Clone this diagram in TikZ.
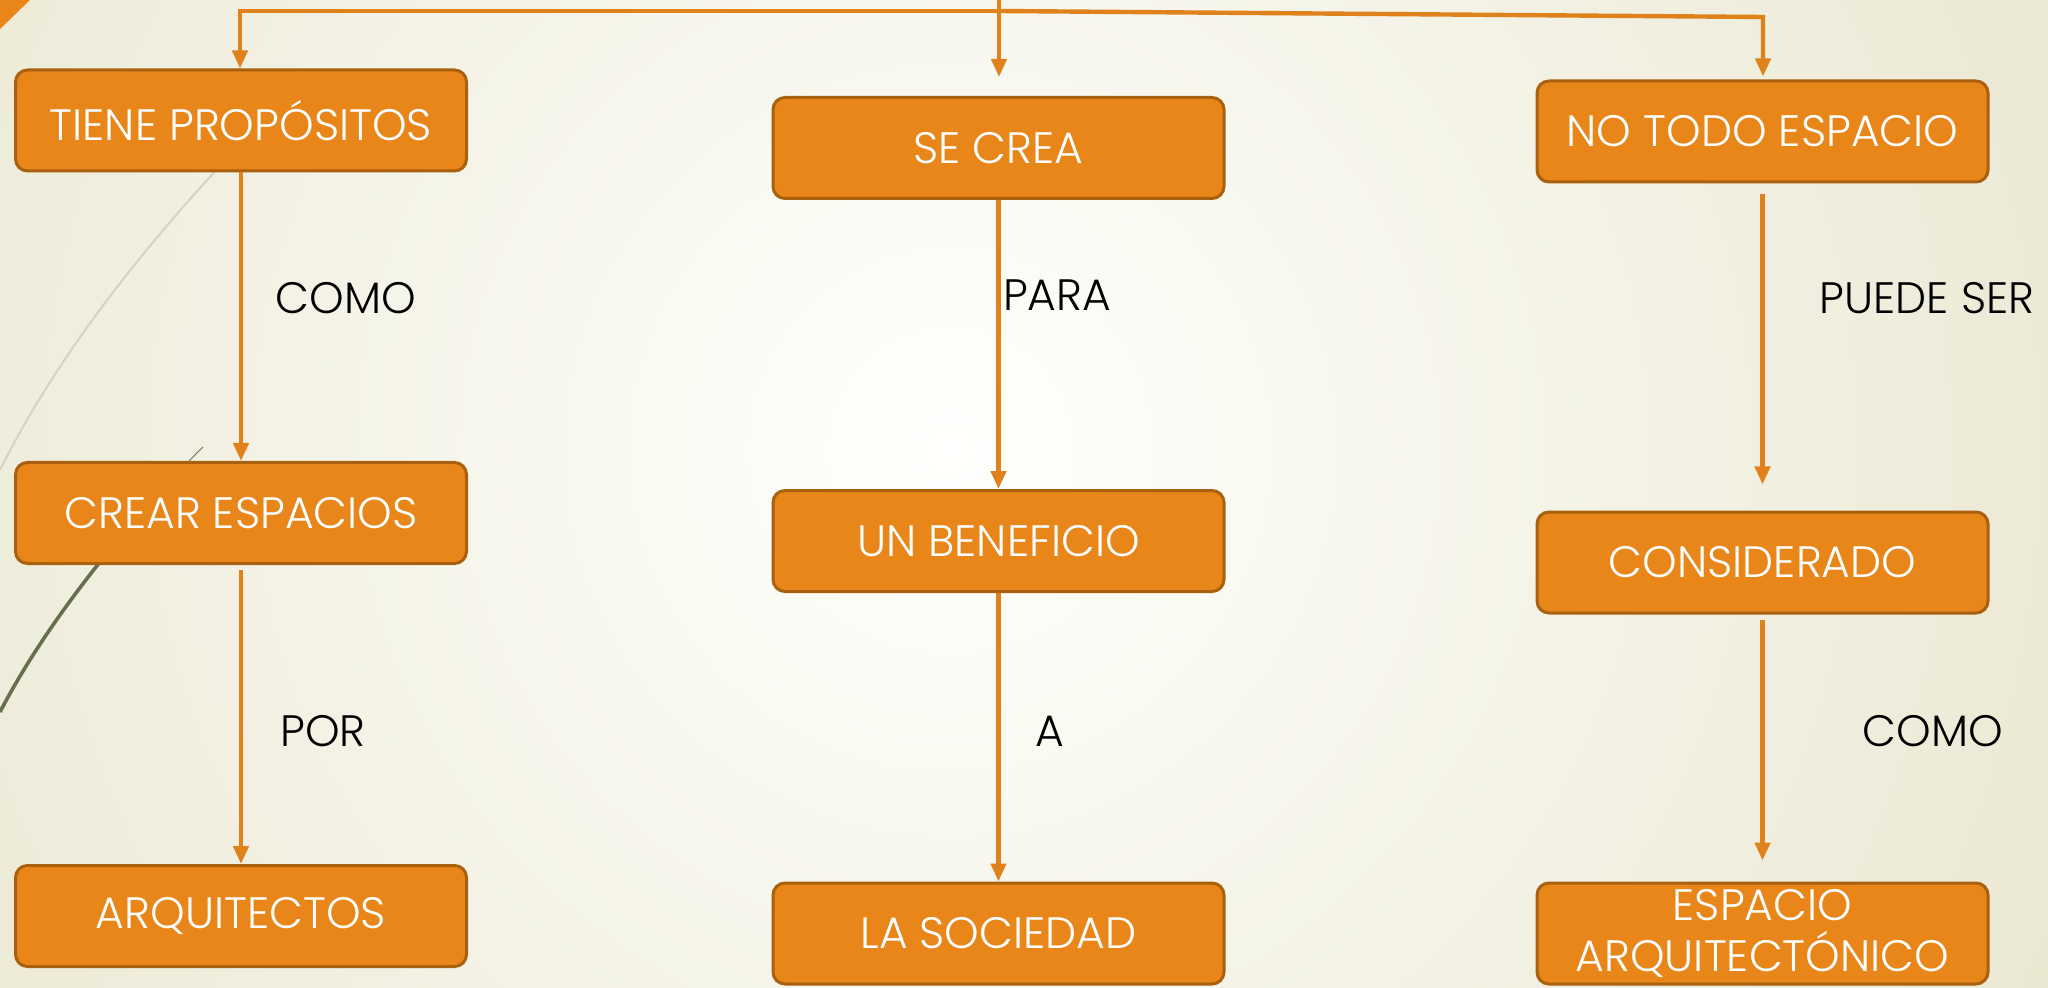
\documentclass[tikz,border=0pt]{standalone}
\usepackage{fontspec}
\setmainfont{Poppins Light}
\usetikzlibrary{arrows.meta}
\definecolor{boxfill}{HTML}{E8861A}
\definecolor{boxedge}{HTML}{A9600F}
\definecolor{arrowc}{HTML}{E0821C}
\definecolor{bgin}{HTML}{FFFFFD}
\definecolor{bgout}{HTML}{E9E6CF}
\definecolor{wispl}{HTML}{D2D5C0}
\definecolor{wispd}{HTML}{66704F}
\begin{document}
\begin{tikzpicture}[x=0.5pt,y=-0.5pt,
  box/.style={rectangle, rounded corners=6pt, fill=boxfill, draw=boxedge, line width=1.5pt,
    minimum width=225.5pt, minimum height=50.5pt, inner sep=0pt, text=white,
    font=\fontsize{22}{25.5}\selectfont, align=center},
  lbl/.style={font=\fontsize{22}{25.5}\selectfont, text=black, inner sep=0pt},
  conn/.style={draw=arrowc, line width=2.2pt, -{Triangle[width=7.5pt,length=9pt]}}]
\useasboundingbox (0,0) rectangle (2048,988);
\begin{scope}
  \clip (0,0) rectangle (2048,988);
  \shade[inner color=bgin, outer color=bgout] (950,450) circle (1300);
  % wisp curves
  \draw[wispl, line width=1pt] (235,150) .. controls (150,240) and (60,350) .. (0,470);
  \draw[wispd, line width=0.4pt] (203,447) .. controls (175,475) and (150,500) .. (130,525);
  \draw[wispd, line width=1.8pt] (130,525) .. controls (80,585) and (35,645) .. (0,712);
  \fill[boxfill] (0,0) -- (30,0) -- (0,29) -- cycle;
\end{scope}
% boxes
\node[box] (tiene)   at (241,120.5)  {TIENE PROPÓSITOS};
\node[box] (crear)   at (241,513)    {CREAR ESPACIOS};
\node[box] (arq)     at (241,916)    {ARQUITECTOS};
\node[box] (secrea)  at (998.5,148)  {SE CREA};
\node[box] (unben)   at (998.5,541)  {UN BENEFICIO};
\node[box] (lasoc)   at (998.5,933.5){LA SOCIEDAD};
\node[box] (notodo)  at (1762.5,131.5){NO TODO ESPACIO};
\node[box] (consid)  at (1762.5,562.5){CONSIDERADO};
\node[box] (espacio) at (1762.5,933.5){ESPACIO\\ARQUITECTÓNICO};
% top feed
\coordinate (top) at (999,0);
\coordinate (j) at (999,11);
\coordinate (l) at (240,11);
\coordinate (r) at (1763,17);
\draw[conn, shorten >=9.5pt] (top) -- (top |- secrea.north);
\draw[conn] (j) -- (l) -- (l |- tiene.north);
\draw[conn, shorten >=1.5pt] (j) -- (r) -- (r |- notodo.north);
% column connectors
\draw[conn] (tiene) -- (crear);
\draw[conn, shorten <=2.5pt] (crear) -- (arq);
\draw[conn] (secrea) -- (unben);
\draw[conn] (unben) -- (lasoc);
\draw[conn, shorten <=5.5pt, shorten >=13pt] (notodo) -- (consid);
\draw[conn, shorten <=2.5pt, shorten >=10.5pt] (consid) -- (espacio);
% labels
\node[lbl] (l1) at (346,298)  {COMO};
\node[lbl] (l2) at (323,731)  {POR};
\node[lbl] (l3) at (1057,295) {PARA};
\node[lbl] (l4) at (1050,731) {A};
\node[lbl] (l5) at (1927,298) {PUEDE SER};
\node[lbl] (l6) at (1933,731) {COMO};
\end{tikzpicture}
\end{document}
